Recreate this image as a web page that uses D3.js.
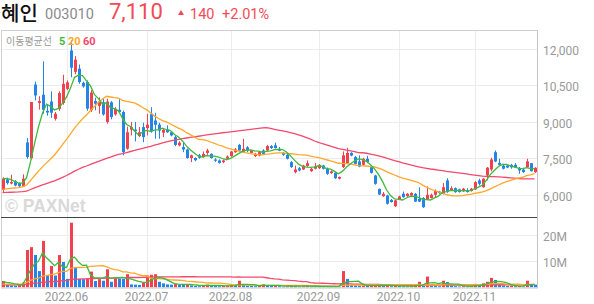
<!DOCTYPE html>
<html>
<head>
<meta charset="utf-8">
<script src="https://cdn.jsdelivr.net/npm/d3@7"></script>
<style>
  body { margin: 0; background: #fff; }
  svg { display: block; font-family: Roboto, "Noto Sans", sans-serif; }
</style>
</head>
<body>
<svg id="chart" width="594" height="304"></svg>
<script>
// trading days shown (2022)
const dates = [
  '05-10','05-11','05-12','05-13','05-16','05-17','05-18','05-19','05-20','05-23','05-24','05-25','05-26','05-27','05-30','05-31',
  '06-02','06-03','06-07','06-08','06-09','06-10','06-13','06-14','06-15','06-16','06-17','06-20','06-21','06-22','06-23','06-24','06-27','06-28','06-29','06-30',
  '07-01','07-04','07-05','07-06','07-07','07-08','07-11','07-12','07-13','07-14','07-15','07-18','07-19','07-20','07-21','07-22','07-25','07-26','07-27','07-28','07-29',
  '08-01','08-02','08-03','08-04','08-05','08-08','08-09','08-10','08-11','08-12','08-16','08-17','08-18','08-19','08-22','08-23','08-24','08-25','08-26','08-29','08-30','08-31',
  '09-01','09-02','09-05','09-06','09-07','09-08','09-13','09-14','09-15','09-16','09-19','09-20','09-21','09-22','09-23','09-26','09-27','09-28','09-29','09-30',
  '10-04','10-05','10-06','10-07','10-11','10-12','10-13','10-14','10-17','10-18','10-19','10-20','10-21','10-24','10-25','10-26','10-27','10-28','10-31',
  '11-01','11-02','11-03','11-04','11-07','11-08','11-09','11-10','11-11','11-14','11-15','11-16','11-17','11-18','11-21','11-22'
];

const opens = [
  6200,6630,6460,6550,6480,6340,8150,7500,10530,9770,10110,9450,9830,9120,9530,9770,10350,11930,11050,11180,
  10600,10630,9470,9850,9650,9800,8990,9800,9300,9490,9400,7890,8670,8680,8410,8780,8740,9330,9050,8880,
  8550,8680,8570,8370,8030,7960,7860,7510,7510,7620,7550,7720,7680,7450,7410,7340,7480,7590,7750,8050,
  7750,7950,7720,7590,7610,7820,7820,8000,8030,7890,7720,7640,7340,6930,7090,7040,7180,6970,7070,7090,
  7200,7070,6890,6900,6660,7140,7300,7720,7550,7370,7230,7480,7130,6790,6240,5940,5970,5790,5530,5810,
  6040,5940,5970,6040,5830,5870,5810,5870,6000,6130,6040,6590,6180,6270,6220,6140,6180,6160,6220,6590,
  6310,6790,7040,7750,7310,7200,7200,7230,7230,7090,7030,7140,7300,6930
];
const highs = [
  6720,6700,6820,6600,6500,6840,8330,9810,10650,10050,11480,9700,10250,9400,10250,10930,10700,12340,11700,11350,
  10650,10700,10300,9990,10000,9950,9950,9850,9600,9940,9460,8800,8990,8990,8780,8960,9330,9600,9370,8960,
  8710,8850,8600,8440,8200,8160,7900,7650,7540,7680,7780,7890,7700,7500,7450,7450,7620,7800,7920,8090,
  8300,8000,7850,7720,7780,7870,8050,8040,8140,7960,7760,7680,7380,7200,7140,7230,7410,7100,7310,7260,
  7230,7120,7000,6930,6750,7780,7930,7750,7590,7620,7520,7600,7160,6820,6260,6110,6000,5830,5790,5960,
  6130,6070,6100,6070,6310,5900,6340,6050,6220,6160,6480,6680,6350,6300,6250,6280,6270,6280,6560,6660,
  6680,7140,7520,7820,7480,7270,7230,7270,7300,7140,7110,7480,7300,7130
];
const lows = [
  6070,6420,6430,6350,6300,6320,7480,7450,9880,9500,9330,9250,9160,9050,9450,9700,10300,10830,10950,10560,
  10400,9450,9400,9470,9330,9250,8920,9100,9250,9370,7620,7850,8440,8190,8370,8160,8440,8550,8300,8300,
  8370,8540,8400,8000,7990,7750,7480,7340,7380,7480,7520,7640,7480,7350,7280,7300,7450,7560,7720,7750,
  7720,7750,7700,7550,7580,7650,7800,7880,7900,7790,7600,7450,7100,6880,6960,7020,7150,6940,7040,7060,
  7040,6820,6860,6650,6630,7100,7280,7580,7240,7130,7200,7300,6870,6410,5990,5920,5600,5680,5500,5790,
  5880,5920,5950,5700,5700,5460,5790,5850,5900,6040,6010,6080,6150,6080,6090,6120,6090,6130,6200,6380,
  6290,6590,6960,7340,7200,7040,7090,7070,7100,6860,6900,7110,6950,6900
];
const closes = [
  6650,6480,6520,6380,6350,6660,7550,9810,10080,9850,9490,9380,9370,9330,10180,10560,10620,11220,11550,10630,
  10450,9540,10200,9740,9830,9300,9830,9190,9530,9400,7750,8570,8780,8610,8570,8370,8880,8600,8880,8640,
  8670,8570,8440,8050,8140,7860,7510,7620,7420,7520,7680,7820,7510,7400,7310,7410,7570,7780,7860,7820,
  7890,7810,7820,7680,7750,7680,8000,7920,7920,7810,7640,7480,7140,7040,7000,7200,7300,7070,7160,7230,
  7070,6860,6960,6680,6730,7620,7720,7610,7270,7160,7480,7340,6900,6450,6010,6040,5630,5700,5770,5930,
  5900,6040,6070,5720,5720,5490,6000,6000,6150,6070,6310,6110,6270,6110,6110,6250,6110,6250,6520,6450,
  6660,7110,7450,7370,7230,7070,7120,7130,7130,7000,6930,7370,6970,7110
];
// volume, millions of shares
const volumes = [
  2.5,1.0,0.8,0.7,0.9,1.9,14.4,15.5,12.5,6.3,17.9,4.8,8.3,4.6,12.5,9.8,3.3,24.9,7.8,3.3,
  3.2,3.5,6.1,2.5,3.2,2.6,7.0,2.2,3.5,3.4,3.3,5.1,1.2,1.1,1.0,2.1,4.6,4.9,5.1,2.2,
  1.6,1.2,1.1,1.4,1.2,1.1,1.3,0.8,0.6,0.5,0.9,1.1,0.7,0.6,0.5,0.6,0.7,0.9,0.8,2.6,
  1.0,0.7,0.6,0.5,0.6,1.3,0.9,0.6,0.7,0.5,0.4,0.5,0.8,0.6,0.4,0.5,0.6,0.4,0.5,0.4,
  0.3,0.4,0.3,0.5,0.3,6.3,3.3,1.0,0.8,0.7,0.8,0.6,0.7,0.9,1.0,0.6,0.9,0.5,0.7,0.6,
  0.5,0.4,0.5,0.6,2.2,0.9,4.2,1.1,0.9,0.5,2.6,2.1,0.8,0.5,0.4,0.5,0.4,0.6,1.4,0.8,
  1.6,2.2,3.7,2.9,1.2,0.8,0.6,0.7,0.5,0.6,0.4,2.6,1.3,1.1
];
// closes / volumes of the 59 sessions before the window (needed for the moving averages)
const preCloses = [
  6100,6080,6050,6020,6000,5980,6010,6040,6060,6030,6000,5970,5990,6020,6050,6070,6040,6010,5990,5980,
  6000,6030,6060,6080,6050,6020,6000,5990,6010,6040,6060,6050,6030,6010,6000,6020,6040,6050,6030,6020,
  6040,6060,6080,6050,6030,6060,6090,6100,6070,6050,6080,6100,6090,6070,6100,6400,6700,6800,6720
];
const preVolumes = [
  0.8,0.9,0.7,0.8,1.0,0.9,0.8,0.7,0.9,0.8,0.9,1.0,0.8,0.7,0.8,0.9,0.8,0.9,0.8,0.7,
  0.9,0.8,0.9,1.0,0.8,0.8,0.9,0.7,0.8,0.9,0.9,0.8,0.8,0.9,1.0,0.8,0.9,0.8,0.9,0.8,
  0.9,0.8,1.0,0.9,0.8,0.9,1.0,0.9,0.8,0.9,1.0,0.9,0.8,0.9,1.0,2.8,2.0,2.4,2.0
];

const priceTicks = [6000, 7500, 9000, 10500, 12000];
const volumeTicks = [10, 20];
const monthLabels = ['2022.06', '2022.07', '2022.08', '2022.09', '2022.10', '2022.11'];
const maPeriods = [5, 20, 60];

const RED = '#f2404e', BLUE = '#2484e8';
const maColors = {5: '#3cba3c', 20: '#ffa829', 60: '#f4486c'};

const svg = d3.select('#chart');
const plotLeft = 1, plotRight = 537;
const priceTop = 30.5, priceBottom = 217;
const volTop = 217.5, volBottom = 287.5;

const x = d3.scaleBand().domain(dates).range([0.5, 536.5]);
const cx = d => x(d) + x.bandwidth() / 2;
const y = d3.scaleLinear().domain([5086, 12750]).range([priceBottom, priceTop]);
const yv = d3.scaleLinear().domain([0, 26.9]).range([volBottom, volTop]);

function movingAvg(pre, vals, n) {
  const all = pre.concat(vals);
  return vals.map((v, i) => d3.mean(all.slice(pre.length + i - n + 1, pre.length + i + 1)));
}

// month start dates for ticks
const monthStarts = [];
dates.forEach((d, i) => { if (i > 0 && d.slice(0, 2) !== dates[i - 1].slice(0, 2)) monthStarts.push(d); });

// ---- header ----
const head = svg.append('g');
head.append('text').attr('x', 1).attr('y', 20.5).text('혜인')
  .style('font-family', '"Liberation Sans", "Noto Sans CJK KR"').style('font-size', '20px').style('font-weight', 500).style('fill', '#111');
head.append('text').attr('x', 45).attr('y', 19).text('003010')
  .style('font-size', '14.5px').style('fill', '#8a8a8a');
head.append('text').attr('x', 109).attr('y', 19).text('7,110')
  .style('font-size', '22px').style('fill', '#f24a55');
head.append('path').attr('d', 'M178,15 L181,10 L184,15 Z').style('fill', '#f24a55');
head.append('text').attr('x', 190).attr('y', 19).text('140')
  .style('font-size', '14.5px').style('fill', '#f24a55');
head.append('text').attr('x', 222).attr('y', 19).text('+2.01%')
  .style('font-size', '14.5px').style('fill', '#f24a55');

// ---- grid ----
const grid = svg.append('g').style('stroke', '#ececec').style('stroke-width', 1);
grid.selectAll('.hp').data(priceTicks).join('line')
  .attr('x1', plotLeft).attr('x2', plotRight)
  .attr('y1', d => Math.round(y(d)) + 0.5).attr('y2', d => Math.round(y(d)) + 0.5);
grid.selectAll('.hv').data(volumeTicks).join('line')
  .attr('x1', plotLeft).attr('x2', plotRight)
  .attr('y1', d => Math.round(yv(d)) + 0.5).attr('y2', d => Math.round(yv(d)) + 0.5);
grid.selectAll('.vx').data(monthStarts).join('line')
  .attr('x1', d => Math.round(cx(d)) + 0.5).attr('x2', d => Math.round(cx(d)) + 0.5)
  .attr('y1', priceTop).attr('y2', volBottom);

// watermark
svg.append('text').attr('x', 5).attr('y', 212).text('© PAXNet')
  .style('font-family', '"Liberation Sans", Arial, sans-serif').style('font-weight', 'bold')
  .style('font-size', '17.5px').style('fill', '#d9d9d9');

// ---- clip ----
const defs = svg.append('defs');
defs.append('clipPath').attr('id', 'cp').append('rect')
  .attr('x', plotLeft).attr('y', priceTop).attr('width', plotRight - plotLeft).attr('height', priceBottom - priceTop);
defs.append('clipPath').attr('id', 'cv').append('rect')
  .attr('x', plotLeft).attr('y', volTop).attr('width', plotRight - plotLeft).attr('height', volBottom - volTop);

// ---- candles ----
const pricePlot = svg.append('g').attr('clip-path', 'url(#cp)');
const candles = dates.map((d, i) => ({date: d, o: opens[i], h: highs[i], l: lows[i], c: closes[i]}));
const cg = pricePlot.selectAll('.candle').data(candles).join('g')
  .style('fill', d => d.c >= d.o ? RED : BLUE).style('stroke', d => d.c >= d.o ? RED : BLUE);
cg.append('line')
  .attr('x1', d => Math.round(cx(d.date)) + 0.5).attr('x2', d => Math.round(cx(d.date)) + 0.5)
  .attr('y1', d => y(d.h)).attr('y2', d => y(d.l)).style('stroke-width', 1);
cg.append('rect')
  .attr('x', d => Math.round(cx(d.date)) - 1).attr('width', 3)
  .attr('y', d => y(Math.max(d.o, d.c)))
  .attr('height', d => Math.max(1, Math.abs(y(d.o) - y(d.c))))
  .style('stroke', 'none');

// price moving averages
maPeriods.slice().reverse().forEach(n => {
  const ma = movingAvg(preCloses, closes, n);
  pricePlot.append('path').datum(ma)
    .attr('d', d3.line().x((v, i) => cx(dates[i])).y(v => y(v)))
    .style('fill', 'none').style('stroke', maColors[n]).style('stroke-width', 1.3);
});

// ---- volume ----
const volPlot = svg.append('g').attr('clip-path', 'url(#cv)');
volPlot.selectAll('.vbar').data(volumes).join('rect')
  .attr('x', (v, i) => Math.round(cx(dates[i])) - 1).attr('width', 3)
  .attr('y', v => yv(v)).attr('height', v => volBottom - yv(v))
  .style('fill', (v, i) => v >= (i ? volumes[i - 1] : preVolumes[preVolumes.length - 1]) ? RED : BLUE);
maPeriods.slice().reverse().forEach(n => {
  const ma = movingAvg(preVolumes, volumes, n);
  volPlot.append('path').datum(ma)
    .attr('d', d3.line().x((v, i) => cx(dates[i])).y(v => yv(v)))
    .style('fill', 'none').style('stroke', maColors[n]).style('stroke-width', 1.3);
});

// ---- frame ----
const frame = svg.append('g').style('fill', 'none');
frame.append('line').attr('x1', plotLeft).attr('x2', plotRight).attr('y1', 30.5).attr('y2', 30.5).style('stroke', '#cfcfcf');
frame.append('line').attr('x1', 1.5).attr('x2', 1.5).attr('y1', 30).attr('y2', volBottom).style('stroke', '#cfcfcf');
frame.append('line').attr('x1', plotRight + 0.5).attr('x2', plotRight + 0.5).attr('y1', 30).attr('y2', volBottom + 0.5).style('stroke', '#c4c4c4');
frame.append('line').attr('x1', plotLeft).attr('x2', plotRight).attr('y1', 217.5).attr('y2', 217.5).style('stroke', '#444');
frame.append('line').attr('x1', plotLeft).attr('x2', plotRight + 1).attr('y1', volBottom + 0.5).attr('y2', volBottom + 0.5).style('stroke', '#c4c4c4');

// ---- axes ----
const yAxis = svg.append('g').attr('transform', `translate(${plotRight},0)`)
  .call(d3.axisRight(y).tickValues(priceTicks).tickFormat(d3.format(',')).tickSize(0).tickPadding(6));
const vAxis = svg.append('g').attr('transform', `translate(${plotRight},0)`)
  .call(d3.axisRight(yv).tickValues(volumeTicks).tickFormat(d => d + 'M').tickSize(0).tickPadding(6));
const xAxis = svg.append('g').attr('transform', `translate(0,${volBottom})`)
  .call(d3.axisBottom(x).tickValues(monthStarts).tickFormat((d, i) => monthLabels[i]).tickSize(0).tickPadding(5));
[yAxis, vAxis, xAxis].forEach(a => {
  a.select('.domain').remove();
  a.selectAll('text').style('font-family', 'Roboto, sans-serif').style('font-size', '12px').style('fill', '#999');
});
yAxis.selectAll('text').attr('dy', '0.45em');
vAxis.selectAll('text').attr('dy', '0.45em');

// ---- legend ----
const lg = svg.append('text').attr('x', 6).attr('y', 45).style('font-size', '11px');
lg.append('tspan').text('이동평균선').style('font-family', '"Noto Sans CJK KR"').style('font-size', '10px').style('fill', '#999');
lg.append('tspan').attr('x', 59).text('5').style('fill', maColors[5]).style('font-weight', 'bold');
lg.append('tspan').attr('x', 68).text('20').style('fill', maColors[20]).style('font-weight', 'bold');
lg.append('tspan').attr('x', 83).text('60').style('fill', maColors[60]).style('font-weight', 'bold');
</script>
</body>
</html>
